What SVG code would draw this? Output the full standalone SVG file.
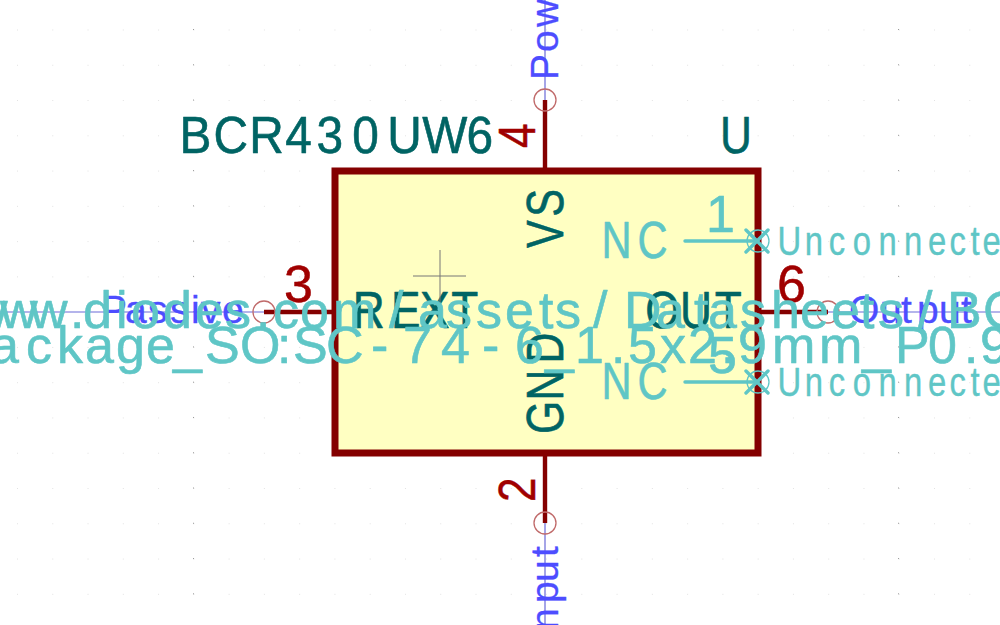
<svg xmlns="http://www.w3.org/2000/svg" width="1000" height="625" viewBox="0 0 1000 625">
<defs>
<pattern id="grid" patternUnits="userSpaceOnUse" x="17" y="29.5" width="35.27" height="35.27"><rect x="0" y="0" width="1" height="1" fill="#e2e2e2"/></pattern>
</defs>
<style>
text{font-family:"Liberation Sans",Arial,sans-serif;stroke-linejoin:round}
.pin{stroke:#840000;stroke-width:4.4;fill:none}
.end{stroke:#c06a6a;stroke-width:1.3;fill:none}
.wire{stroke:#6a6ad8;stroke-width:1.2;fill:none}
.nc{stroke:#5fc6c6;stroke-width:3.4;fill:none;stroke-linecap:round}
.ncr{stroke:#5fc6c6;stroke-width:1.3;fill:none}
.t1{fill:#006464;stroke:#006464;stroke-width:.6;font-size:52px}
.red{fill:#a00000;stroke:#a00000;stroke-width:.5;font-size:52px}
.blue{fill:#4d4dff;stroke:#4d4dff;stroke-width:.3;font-size:39px}
.cy{fill:#5fc6c6;stroke:#5fc6c6;stroke-width:.6;font-size:52px}
.cys{fill:#5fc6c6;stroke:#5fc6c6;stroke-width:.4;font-size:41px}
</style>
<rect width="1000" height="625" fill="#ffffff"/>
<rect width="1000" height="625" fill="url(#grid)"/>
<path d="M193.5 29V625M898.5 29V625" stroke="#999" stroke-width="1" stroke-dasharray="1 34.27" fill="none"/>
<g id="body"><rect x="335" y="171" width="423" height="282" fill="#ffffc2" stroke="#840000" stroke-width="7"/></g>
<g id="connectors">
<path class="wire" d="M0 312H264M828 312H1000M545 0V100M545 523V625"/>
<path class="pin" d="M545 100V171M545 453V523M264 312H335M758 312H828"/>
<path class="nc" d="M685 241H758M685 382H758"/>
</g>
<g id="ref">
<text class="t1" transform="translate(0 153) scale(.92 1)" x="195 232 271 310 344 383 421 459 507">BCR430UW6</text>
<text class="t1" transform="translate(0 153) scale(.85 1)" x="847">U</text>
</g>
<g id="pin4">
<circle class="end" cx="545" cy="100" r="11"/>
<text class="red" transform="translate(535 148) rotate(-90) scale(.85 1)">4</text>
<text class="t1" transform="translate(563 248) rotate(-90) scale(.8 1)" x="0 39">VS</text>
<text class="blue" transform="translate(558 80) rotate(-90)" x="0 28 53">Pow</text>
</g>
<g id="pin2">
<circle class="end" cx="545" cy="523" r="11"/>
<text class="red" transform="translate(535 502) rotate(-90) scale(.85 1)">2</text>
<text class="t1" transform="translate(563 434) rotate(-90) scale(.82 1)" x="0 41 86">GND</text>
<text class="blue" transform="translate(558 630) rotate(-90)" x="0 27 48 73">nput</text>
</g>
<g id="pin3">
<circle class="end" cx="264" cy="312" r="11"/>
<text class="red" x="284" y="302">3</text>
<text class="t1" transform="translate(0 328) scale(.85 1)" x="415 460 494 531">REXT</text>
<text class="blue" x="101 125 148 170 191 201 222" y="323">Passive</text>
</g>
<g id="pin6">
<circle class="end" cx="828" cy="312" r="11"/>
<text class="red" x="777" y="302">6</text>
<text class="t1" transform="translate(0 328) scale(.85 1)" x="759 800 841">OUT</text>
<text class="blue" x="849 880 901 917 939 961" y="323">Output</text>
</g>
<g id="pin1">
<circle class="ncr" cx="758" cy="241" r="11"/>
<path class="nc" d="M746 230L768 252M768 230L746 252"/>
<text class="cy" transform="translate(0 258) scale(.8 1)" x="752 797">NC</text>
<text class="cy" x="706" y="232">1</text>
<text class="cys" transform="translate(0 255) scale(.8 1)" x="972 1006 1036 1066 1098 1130 1160 1187 1213 1228">Unconnecte</text>
</g>
<g id="pin5">
<circle class="ncr" cx="758" cy="382" r="11"/>
<path class="nc" d="M746 371L768 393M768 371L746 393"/>
<text class="cy" transform="translate(0 399) scale(.8 1)" x="752 797">NC</text>
<text class="cy" x="708" y="373">5</text>
<text class="cys" transform="translate(0 396) scale(.8 1)" x="972 1006 1036 1066 1098 1130 1160 1187 1213 1228">Unconnecte</text>
</g>
<g id="anchor"><path d="M440 250V303M413 276H466" stroke="#777" stroke-width="1" fill="none"/></g>
<g id="fields">
<text class="cy" y="328" x="-30 0 30 70 83 116 131 163 195 225 256 273 300 333 389 418 446 476 505 539 555 593 624 656 694 708 740 771 800 831 860 878 918 947 983">www.diodes.com/assets/Datasheets/BC</text>
<text class="cy" y="363" x="-10 26 57 85 116 146 173 205 240 277 293 326 371 403 441 482 515 545 575 611 628 660 688 721 738 772 819 862 895 928 964 980">ackage_SO:SC-74-6_1.5x2.9mm_P0.9</text>
</g>
</svg>
